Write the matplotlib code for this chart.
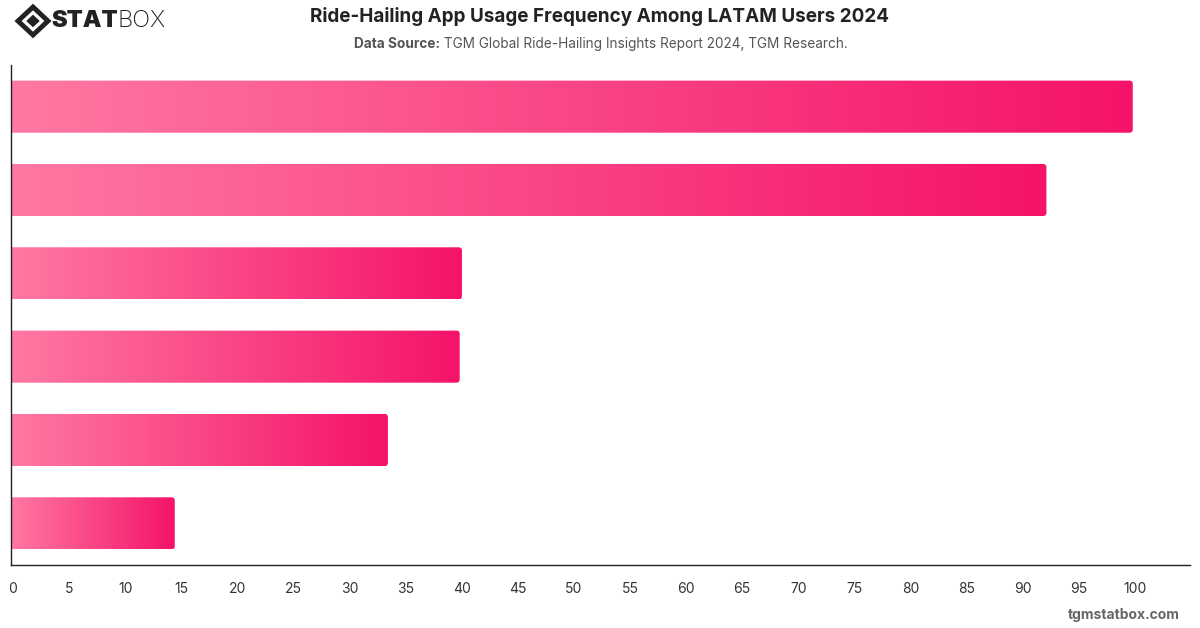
import matplotlib
matplotlib.use("Agg")
import matplotlib.pyplot as plt
from matplotlib.colors import LinearSegmentedColormap
from matplotlib.patches import FancyBboxPatch, Polygon
import numpy as np

plt.rcParams["font.family"] = ["Inter", "DejaVu Sans"]

# Bar values, top to bottom
values = [100.0, 92.3, 40.2, 40.0, 33.6, 14.6]
x_ticks = list(range(0, 101, 5))

TITLE = "Ride-Hailing App Usage Frequency Among LATAM Users 2024"
SOURCE_BOLD = "Data Source:"
SOURCE_TEXT = " TGM Global Ride-Hailing Insights Report 2024, TGM Research."

cmap = LinearSegmentedColormap.from_list("pinkgrad", ["#ff78a2", "#f5136a"])

fig = plt.figure(figsize=(12, 6.28), dpi=100)
ax = fig.add_axes([11 / 1200, 1 - 565 / 628, (1190 - 11) / 1200, 500 / 628])

n = len(values)
bar_h = 0.625
gradient = np.linspace(0, 1, 256).reshape(1, -1)
for i, v in enumerate(values):
    y0 = i - bar_h / 2
    patch = FancyBboxPatch((-1, y0), v + 1, bar_h,
                           boxstyle="round,pad=0,rounding_size=0.3",
                           mutation_aspect=0.13, facecolor="none",
                           edgecolor="none", transform=ax.transData)
    ax.add_patch(patch)
    im = ax.imshow(gradient, cmap=cmap, aspect="auto",
                   extent=(0, v, y0 + bar_h, y0), interpolation="bicubic")
    im.set_clip_path(patch)

ax.set_xlim(0, 105.1)
ax.set_ylim(n - 0.5, -0.5)
ax.set_xticks(x_ticks)
ax.set_xticklabels([str(t) for t in x_ticks])
for lbl in ax.get_xticklabels():
    lbl.set_x(lbl.get_position()[0])
ax.set_yticks([])
ax.tick_params(axis="x", length=0, pad=12, labelsize=10, labelcolor="#333333")
for lbl in ax.get_xticklabels():
    lbl.set_transform(lbl.get_transform() + matplotlib.transforms.ScaledTranslation(2 / 100, 0, fig.dpi_scale_trans))
for s in ["top", "right"]:
    ax.spines[s].set_visible(False)
for s in ["left", "bottom"]:
    ax.spines[s].set_color("#222222")
    ax.spines[s].set_linewidth(1.0)

# Title and source
fig.text(0.5, 1 - 17 / 628, TITLE, ha="center", va="center",
         fontsize=13.6, fontweight="bold", color="#222222")
t1 = fig.text(0.5, 1 - 44 / 628, SOURCE_BOLD + SOURCE_TEXT, ha="center",
              va="center", fontsize=9.8, color="#555555", alpha=0)
fig.canvas.draw()
bb = t1.get_window_extent()
tb = fig.text(bb.x0 / 1200, 1 - 44 / 628, SOURCE_BOLD, ha="left", va="center",
              fontsize=9.8, fontweight="bold", color="#555555")
fig.canvas.draw()
bb2 = tb.get_window_extent()
fig.text(bb2.x1 / 1200, 1 - 44 / 628, SOURCE_TEXT, ha="left", va="center",
         fontsize=9.8, color="#555555")

# Logo
cx, cy = 33 / 1200, 1 - 21 / 628
r = 15 / 1200
ry = 14 / 628
fig.patches.append(Polygon([(cx - r, cy), (cx, cy + ry), (cx + r, cy), (cx, cy - ry)],
                           closed=True, transform=fig.transFigure,
                           facecolor="none", edgecolor="#222222", linewidth=3.5))
fig.patches.append(Polygon([(cx - r * 0.45, cy), (cx, cy + ry * 0.45),
                            (cx + r * 0.45, cy), (cx, cy - ry * 0.45)],
                           closed=True, transform=fig.transFigure,
                           facecolor="#222222", edgecolor="none"))
ts = fig.text(51 / 1200, cy, "STAT", ha="left", va="center", fontsize=17,
              fontweight="black", color="#222222")
fig.canvas.draw()
bs = ts.get_window_extent()
fig.text(bs.x1 / 1200, cy, "BOX", ha="left", va="center", fontsize=17,
         fontweight="light", color="#222222")

# Watermark
fig.text(1180 / 1200, 1 - 615 / 628, "tgmstatbox.com", ha="right", va="center",
         fontsize=10, fontweight="bold", color="#666666")

fig.savefig("out.png", dpi=100, facecolor="white")
